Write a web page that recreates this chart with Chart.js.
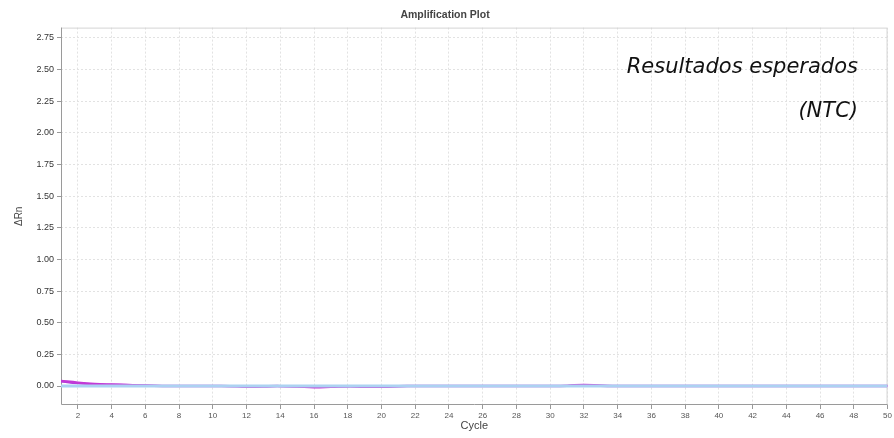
<!DOCTYPE html>
<html>
<head>
<meta charset="utf-8">
<script src="https://cdn.jsdelivr.net/npm/chart.js@4.4.1/dist/chart.umd.min.js"></script>
<style>
  html, body { margin: 0; padding: 0; background: #fff; }
  #wrap { position: relative; width: 894px; height: 438px; }
  .note {
    position: absolute; right: 36px;
    font-family: 'DejaVu Sans', sans-serif; font-style: italic;
    font-size: 21px; color: #111; text-align: right; white-space: nowrap;
    line-height: 1;
  }
</style>
</head>
<body>
<div id="wrap">
  <canvas id="amp" width="894" height="438"></canvas>
  <div class="note" style="top:56px;">Resultados esperados</div>
  <div class="note" style="top:100px;">(NTC)</div>
</div>
<script>
// Data (ΔRn per cycle)
const cycles = Array.from({ length: 50 }, (_, i) => i + 1);
const xTicks = [2,4,6,8,10,12,14,16,18,20,22,24,26,28,30,32,34,36,38,40,42,44,46,48,50];
const yTicks = [0,0.25,0.5,0.75,1,1.25,1.5,1.75,2,2.25,2.5,2.75];

// threshold / baseline line at zero
const threshold = cycles.map(() => 0);

// NTC wells: flat around zero, small wiggles
const ntcA = [0.040,0.026,0.016,0.011,0.007,0.003,0.001,0,0,0,
              -0.001,-0.004,-0.002,-0.001,-0.004,-0.009,-0.006,-0.002,-0.005,-0.005,
              -0.002,0,0,0,0,0,0,0,0,0,
              0.002,0.008,0.002,0,0,0,0,0,0,0,
              0,0,0,0,0,0,0,0,0,0];
const ntcB = [0.036,0.022,0.014,0.010,0.008,0.004,0.001,0,0,0,
              0,-0.003,-0.004,0,-0.002,-0.007,-0.006,-0.003,-0.004,-0.005,
              -0.001,0,0,0,0,0,0,0,0,0,
              0.001,0.006,0.003,0,0,0,0,0,0,0,
              0,0,0,0,0,0,0,0,0,0];

// first entry is drawn on top
const series = [
  { label: 'Threshold', data: threshold, color: '#acd2f2', width: 3 },
  { label: 'NTC 1', data: ntcA, color: '#c23ad6', width: 2.5 },
  { label: 'NTC 2', data: ntcB, color: '#a83ee0', width: 2 },
];

const frame = {
  id: 'frame',
  beforeDatasetsDraw(chart) {
    const { ctx, chartArea: a } = chart;
    ctx.save();
    ctx.strokeStyle = '#d4d4d4';
    ctx.lineWidth = 1;
    ctx.beginPath();
    ctx.moveTo(a.left, a.top + 0.5);
    ctx.lineTo(a.right - 0.5, a.top + 0.5);
    ctx.lineTo(a.right - 0.5, a.bottom);
    ctx.stroke();
    ctx.strokeStyle = '#9a9a9a';
    ctx.beginPath();
    ctx.moveTo(a.left + 0.5, a.top);
    ctx.lineTo(a.left + 0.5, a.bottom - 0.5);
    ctx.lineTo(a.right, a.bottom - 0.5);
    ctx.stroke();
    ctx.restore();
  }
};

const font = 'Liberation Sans, Arial, sans-serif';

new Chart(document.getElementById('amp'), {
  type: 'line',
  data: {
    datasets: series.map(s => ({
      label: s.label,
      data: cycles.map((c, i) => ({ x: c, y: s.data[i] })),
      borderColor: s.color,
      borderWidth: s.width,
      pointRadius: 0,
      tension: 0.4,
      fill: false,
    }))
  },
  options: {
    responsive: false,
    animation: false,
    layout: { padding: { top: 0, right: 4, left: 0, bottom: 0 } },
    plugins: {
      legend: { display: false },
      tooltip: { enabled: false },
      title: {
        display: true,
        text: 'Amplification Plot',
        color: '#444',
        font: { family: font, size: 10.5, weight: 'bold' },
        padding: { top: 9, bottom: 6 },
      },
    },
    scales: {
      x: {
        type: 'linear',
        min: 1,
        max: 50,
        afterBuildTicks: sc => { sc.ticks = xTicks.map(v => ({ value: v })); },
        afterFit: sc => { sc.height = 33; },
        grid: { color: '#e2e2e2', drawTicks: true, tickLength: 4, tickColor: '#999' },
        border: { display: false, dash: [2, 2] },
        ticks: {
          color: '#555', padding: 2, maxRotation: 0, autoSkip: false,
          font: { family: font, size: 8 },
        },
        title: {
          display: true, text: 'Cycle', color: '#444', padding: { top: 0, bottom: 5 },
          font: { family: font, size: 11 },
        },
      },
      y: {
        min: -0.15,
        max: 2.83,
        afterBuildTicks: sc => { sc.ticks = yTicks.map(v => ({ value: v })); },
        afterFit: sc => { sc.width = 61; },
        grid: { color: '#e2e2e2', drawTicks: true, tickLength: 4, tickColor: '#999' },
        border: { display: false, dash: [2, 2] },
        ticks: {
          color: '#333', padding: 3,
          callback: v => v.toFixed(2),
          font: { family: font, size: 9 },
        },
        title: {
          display: true, text: 'ΔRn', color: '#444', padding: { top: 13, bottom: 0 },
          font: { family: font, size: 10 },
        },
      },
    },
  },
  plugins: [frame],
});
</script>
</body>
</html>
